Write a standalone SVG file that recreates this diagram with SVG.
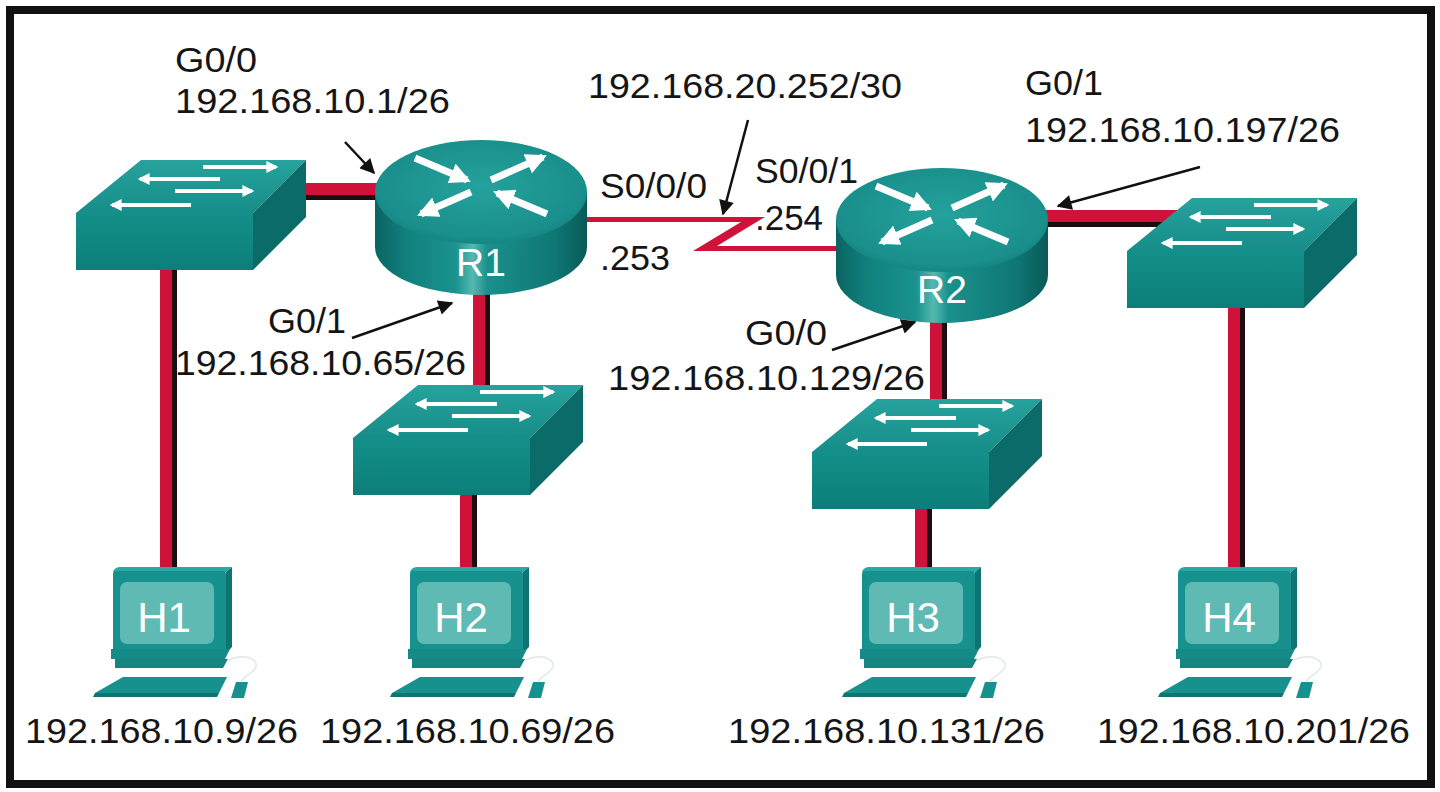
<svg xmlns="http://www.w3.org/2000/svg" width="1440" height="792" viewBox="0 0 1440 792">
<style>
.lbl{font-family:"Liberation Sans",Arial,sans-serif;font-size:35px;fill:#151515}
.dev{font-family:"Liberation Sans",Arial,sans-serif;fill:#ffffff;text-anchor:middle}
.cable{stroke:#d0123a;stroke-width:12;fill:none}
.shadow{stroke:#1c0d10;stroke-width:6;fill:none}
.serial{fill:#d0123a}
.ann{stroke:#111;stroke-width:2.5;fill:none;marker-end:url(#ah)}
</style>
<defs>
<linearGradient id="rSide" x1="0" y1="0" x2="1" y2="0">
<stop offset="0" stop-color="#0a6461"/>
<stop offset="0.15" stop-color="#11817e"/>
<stop offset="0.38" stop-color="#1a928e"/>
<stop offset="0.46" stop-color="#56b8b1"/>
<stop offset="0.53" stop-color="#1a908c"/>
<stop offset="0.85" stop-color="#0f7774"/>
<stop offset="1" stop-color="#095a58"/>
</linearGradient>
<radialGradient id="rTop" cx="0.5" cy="0.45" r="0.6">
<stop offset="0" stop-color="#24a29d"/>
<stop offset="0.8" stop-color="#1a8f8b"/>
<stop offset="1" stop-color="#12807c"/>
</radialGradient>
<linearGradient id="swTop" x1="0" y1="1" x2="0" y2="0">
<stop offset="0" stop-color="#168d89"/>
<stop offset="1" stop-color="#27a29d"/>
</linearGradient>
<linearGradient id="swFront" x1="0" y1="0" x2="0" y2="1">
<stop offset="0" stop-color="#129089"/>
<stop offset="1" stop-color="#0d7e79"/>
</linearGradient>
<marker id="ah" viewBox="0 0 10 10" refX="9" refY="5" markerUnits="userSpaceOnUse" markerWidth="19" markerHeight="15" orient="auto">
<path d="M0,0 L10,5 L0,10 Z" fill="#111"/>
</marker>
<marker id="rh" viewBox="0 0 10 10" refX="8" refY="5" markerWidth="3" markerHeight="3" orient="auto">
<path d="M0,0 L10,5 L0,10 Z" fill="#ffffff"/>
</marker>
<marker id="sh" viewBox="0 0 10 10" refX="8" refY="5" markerWidth="3.4" markerHeight="3" orient="auto">
<path d="M0,0 L10,5 L0,10 Z" fill="#ffffff"/>
</marker>
<g id="sw">
<path d="M0,0 L65,-53 L230,-53 L177,0 Z" fill="url(#swTop)"/>
<rect x="0" y="0" width="177" height="57" fill="url(#swFront)"/>
<path d="M177,0 L230,-53 L230,4 L177,57 Z" fill="#0b6b68"/>
<g stroke="#ffffff" stroke-width="4" marker-end="url(#sh)">
<line x1="127" y1="-46" x2="200" y2="-46"/>
<line x1="144" y1="-34" x2="64" y2="-34"/>
<line x1="99" y1="-22" x2="176" y2="-22"/>
<line x1="115" y1="-8" x2="36" y2="-8"/>
</g>
</g>
<g id="rt">
<path d="M-106,0 V55 A106,48 0 0 0 106,55 V0 Z" fill="url(#rSide)"/>
<ellipse cx="0" cy="0" rx="106" ry="52" fill="url(#rTop)"/>
<g stroke="#ffffff" stroke-width="7" marker-end="url(#rh)">
<line x1="-66" y1="-34" x2="-14" y2="-12"/>
<line x1="10" y1="-12" x2="62" y2="-35"/>
<line x1="-10" y1="0" x2="-60" y2="22"/>
<line x1="66" y1="22" x2="16" y2="1"/>
</g>
</g>
<g id="pc">
<path d="M0,5 Q1,1 6,0 L119,0 L113,5 Z" fill="#2aa8a2"/>
<rect x="0" y="4" width="113" height="82" rx="3" fill="#17918d"/>
<path d="M113,5 L119,0 L119,80 L113,86 Z" fill="#0e7471"/>
<rect x="7" y="15" width="94" height="62" rx="7" fill="#5fbab4"/>
<path d="M-2,82 L117,82 L112,92 L-2,92 Z" fill="#158a86"/>
<path d="M2,92 L115,92 L110,101 L2,101 Z" fill="#14857f"/>
<path d="M10,110 L114,110 L106,126 L-18,126 Z" fill="#17918d"/>
<path d="M-18,126 L106,126 L104,130 L-20,130 Z" fill="#0e7471"/>
<path d="M123,115 L135,115 L131,131 L118,131 Z" fill="#17918d"/>
<path d="M116,93 C135,85 150,95 140,104 C135,109 130,110 128,115" stroke="#dfe8e8" stroke-width="1.5" fill="none"/>
</g>
</defs>

<rect x="0" y="0" width="1440" height="792" fill="#ffffff"/>
<rect id="frame" x="10" y="10" width="1421" height="774" fill="none" stroke="#111" stroke-width="8"/>

<g id="connectors">
<line class="shadow" x1="300" y1="197" x2="380" y2="197"/>
<line class="cable" x1="300" y1="189" x2="380" y2="189"/>
<line class="shadow" x1="174" y1="265" x2="174" y2="572"/>
<line class="cable" x1="166" y1="265" x2="166" y2="572"/>
<line class="shadow" x1="487" y1="290" x2="487" y2="400"/>
<line class="cable" x1="479" y1="290" x2="479" y2="400"/>
<line class="shadow" x1="474" y1="490" x2="474" y2="572"/>
<line class="cable" x1="466" y1="490" x2="466" y2="572"/>
<line class="shadow" x1="1045" y1="224" x2="1190" y2="224"/>
<line class="cable" x1="1045" y1="216" x2="1190" y2="216"/>
<line class="shadow" x1="944" y1="318" x2="944" y2="410"/>
<line class="cable" x1="936" y1="318" x2="936" y2="410"/>
<line class="shadow" x1="929" y1="505" x2="929" y2="572"/>
<line class="cable" x1="921" y1="505" x2="921" y2="572"/>
<line class="shadow" x1="1242" y1="300" x2="1242" y2="572"/>
<line class="cable" x1="1234" y1="300" x2="1234" y2="572"/>
<path class="serial" d="M585,217 H765 L717,246 H840 V251 H693 L741,222 H585 Z"/>
</g>

<g id="SW1"><use href="#sw" transform="translate(76,213)"/></g>
<g id="SW2"><use href="#sw" transform="translate(353,438)"/></g>
<g id="SW3"><use href="#sw" transform="translate(812,452)"/></g>
<g id="SW4"><use href="#sw" transform="translate(1127,251)"/></g>

<g id="R1"><use href="#rt" transform="translate(481,192)"/><text class="dev" x="481" y="276" font-size="39">R1</text></g>
<g id="R2"><use href="#rt" transform="translate(942,220)"/><text class="dev" x="942" y="303" font-size="39">R2</text></g>

<g id="H1"><use href="#pc" transform="translate(113,567)"/><text class="dev" x="164" y="632" font-size="42">H1</text></g>
<g id="H2"><use href="#pc" transform="translate(410,567)"/><text class="dev" x="461" y="632" font-size="42">H2</text></g>
<g id="H3"><use href="#pc" transform="translate(862,567)"/><text class="dev" x="913" y="632" font-size="42">H3</text></g>
<g id="H4"><use href="#pc" transform="translate(1178,567)"/><text class="dev" x="1229" y="632" font-size="42">H4</text></g>

<g id="annotations">
<line class="ann" x1="345" y1="142" x2="374" y2="173"/>
<line class="ann" x1="748" y1="120" x2="723" y2="214"/>
<line class="ann" x1="1200" y1="167" x2="1058" y2="206"/>
<line class="ann" x1="352" y1="338" x2="452" y2="303"/>
<line class="ann" x1="832" y1="350" x2="915" y2="322"/>
</g>

<g id="labels">
<text class="lbl" x="175" y="72" textLength="82" lengthAdjust="spacingAndGlyphs">G0/0</text>
<text class="lbl" x="175" y="113" textLength="275" lengthAdjust="spacingAndGlyphs">192.168.10.1/26</text>
<text class="lbl" x="588" y="98" textLength="314" lengthAdjust="spacingAndGlyphs">192.168.20.252/30</text>
<text class="lbl" x="1025" y="95" textLength="78" lengthAdjust="spacingAndGlyphs">G0/1</text>
<text class="lbl" x="1025" y="142" textLength="315" lengthAdjust="spacingAndGlyphs">192.168.10.197/26</text>
<text class="lbl" x="600" y="198" textLength="107" lengthAdjust="spacingAndGlyphs">S0/0/0</text>
<text class="lbl" x="755" y="183" textLength="103" lengthAdjust="spacingAndGlyphs">S0/0/1</text>
<text class="lbl" x="755" y="230" textLength="68" lengthAdjust="spacingAndGlyphs">.254</text>
<text class="lbl" x="600" y="270" textLength="70" lengthAdjust="spacingAndGlyphs">.253</text>
<text class="lbl" x="268" y="333" textLength="78" lengthAdjust="spacingAndGlyphs">G0/1</text>
<text class="lbl" x="175" y="375" textLength="291" lengthAdjust="spacingAndGlyphs">192.168.10.65/26</text>
<text class="lbl" x="745" y="345" textLength="82" lengthAdjust="spacingAndGlyphs">G0/0</text>
<text class="lbl" x="608" y="390" textLength="317" lengthAdjust="spacingAndGlyphs">192.168.10.129/26</text>
<text class="lbl" x="25" y="743" textLength="273" lengthAdjust="spacingAndGlyphs">192.168.10.9/26</text>
<text class="lbl" x="320" y="743" textLength="295" lengthAdjust="spacingAndGlyphs">192.168.10.69/26</text>
<text class="lbl" x="728" y="743" textLength="317" lengthAdjust="spacingAndGlyphs">192.168.10.131/26</text>
<text class="lbl" x="1097" y="743" textLength="313" lengthAdjust="spacingAndGlyphs">192.168.10.201/26</text>
</g>
</svg>
